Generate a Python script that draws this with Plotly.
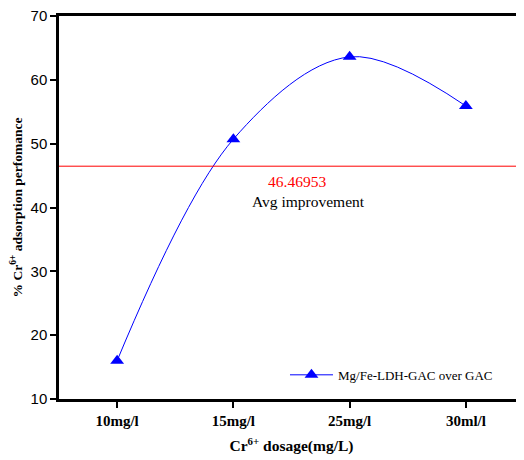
import plotly.graph_objects as go

dosage_labels = ["10mg/l", "15mg/l", "25mg/l", "30ml/l"]
performance = [16.0, 50.7, 63.6, 55.9]
avg_value = 46.46953
series_name = "Mg/Fe-LDH-GAC over GAC"

x_pos = list(range(len(dosage_labels)))

fig = go.Figure()

fig.add_trace(go.Scatter(
    name=series_name,
    x=x_pos,
    y=performance,
    mode="lines+markers",
    line=dict(color="blue", width=1, shape="spline", smoothing=1.0),
    marker=dict(symbol="triangle-up", size=12, color="blue"),
))

# average line across the whole plot
fig.add_shape(
    type="line", xref="paper", yref="y",
    x0=0, x1=1, y0=avg_value, y1=avg_value,
    line=dict(color="red", width=1),
)

serif = "Liberation Serif, Times New Roman, serif"
fig.add_annotation(x=1.55, y=44.15, text=f"{avg_value:.5f}", showarrow=False,
                   font=dict(family=serif, size=15.5, color="red"))
fig.add_annotation(x=1.65, y=40.9, text="Avg improvement", showarrow=False,
                   font=dict(family=serif, size=15.5, color="black"))

# page body adds ~8px offset, so the figure is a bit smaller than the window
fig.update_layout(
    width=516, height=452,
    margin=dict(l=51, r=0, t=8, b=61),
    plot_bgcolor="white", paper_bgcolor="white",
    showlegend=True,
    legend=dict(x=0.486, y=0.063, xanchor="left", yanchor="middle",
                itemwidth=43,
                bgcolor="rgba(0,0,0,0)",
                font=dict(family=serif, size=13, color="black")),
)

fig.update_xaxes(
    range=[-0.5, 3.5],
    tickvals=x_pos, ticktext=dosage_labels,
    showline=True, linecolor="black", linewidth=2.5, mirror=True,
    ticks="outside", ticklen=6, tickwidth=2, tickcolor="black",
    showgrid=False, zeroline=False,
    tickfont=dict(family=serif, size=15, color="black", weight="bold"),
    title=dict(text="Cr<sup>6+</sup> dosage(mg/L)", standoff=13,
               font=dict(family=serif, size=15.5, color="black", weight="bold")),
)

fig.update_yaxes(
    range=[10, 70], dtick=10,
    showline=True, linecolor="black", linewidth=2.5,
    ticks="outside", ticklen=6, tickwidth=2, tickcolor="black",
    showgrid=False, zeroline=False,
    ticklabeloverflow="allow",
    tickfont=dict(family="Liberation Sans, Arial, sans-serif", size=15, color="black"),
    title=dict(text="% Cr<sup>6+</sup> adsorption perfomance", standoff=9,
               font=dict(family=serif, size=13.5, color="black", weight="bold")),
)

fig.write_html("out.html")
